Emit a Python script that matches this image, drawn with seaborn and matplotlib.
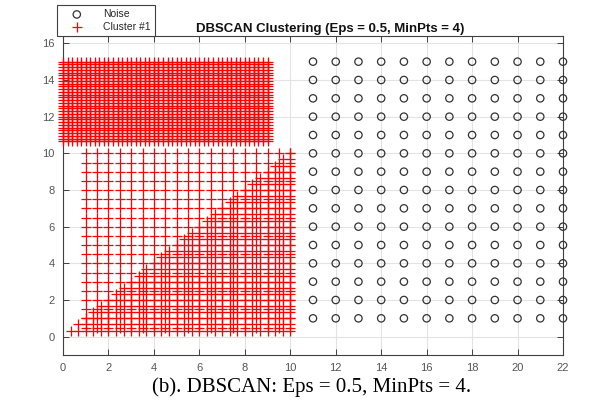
import numpy as np
import pandas as pd
import matplotlib
matplotlib.use("Agg")
import matplotlib.pyplot as plt
import seaborn as sns

# Noise points: regular lattice on the right side
noise_x = [11, 12, 13, 14, 15, 16, 17, 18, 19, 20, 21, 22]
noise_y = [1, 2, 3, 4, 5, 6, 7, 8, 9, 10, 11, 12, 13, 14, 15]

# Cluster #1, upper dense block
block_x = [0.0, 0.2, 0.4, 0.6, 0.8, 1.0, 1.2, 1.4, 1.6, 1.8, 2.0, 2.2, 2.4, 2.6, 2.8,
           3.0, 3.2, 3.4, 3.6, 3.8, 4.0, 4.2, 4.4, 4.6, 4.8, 5.0, 5.2, 5.4, 5.6, 5.8,
           6.0, 6.2, 6.4, 6.6, 6.8, 7.0, 7.2, 7.4, 7.6, 7.8, 8.0, 8.2, 8.4, 8.6, 8.8, 9.0]
block_y = [10.65, 10.8, 10.95, 11.1, 11.25, 11.4, 11.55, 11.7, 11.85, 12.0, 12.15,
           12.3, 12.45, 12.6, 12.75, 12.9, 13.05, 13.2, 13.35, 13.5, 13.65, 13.8,
           13.95, 14.1, 14.25, 14.4, 14.55, 14.7, 14.85, 15.0]

# Cluster #1, lower square lattice
square_x = [1.0, 1.5, 2.0, 2.5, 3.0, 3.5, 4.0, 4.5, 5.0, 5.5, 6.0, 6.5, 7.0, 7.5,
            8.0, 8.5, 9.0, 9.5, 10.0]
square_y = [0.5, 1.0, 1.5, 2.0, 2.5, 3.0, 3.5, 4.0, 4.5, 5.0, 5.5, 6.0, 6.5, 7.0,
            7.5, 8.0, 8.5, 9.0, 9.5, 10.0]

# Cluster #1, finer lattice under the diagonal
tri_steps = [0.33, 0.67, 1.0, 1.33, 1.67, 2.0, 2.33, 2.67, 3.0, 3.33, 3.67, 4.0,
             4.33, 4.67, 5.0, 5.33, 5.67, 6.0, 6.33, 6.67, 7.0, 7.33, 7.67, 8.0,
             8.33, 8.67, 9.0, 9.33, 9.67, 10.0]

title_text = "DBSCAN Clustering (Eps = 0.5, MinPts = 4)"
caption_text = "(b). DBSCAN: Eps = 0.5, MinPts = 4."
x_ticks = [0, 2, 4, 6, 8, 10, 12, 14, 16, 18, 20, 22]
y_ticks = [0, 2, 4, 6, 8, 10, 12, 14, 16]

NOISE_COLOR = "#333333"
CLUSTER_COLOR = "#ff0000"


def lattice(xs, ys):
    gx, gy = np.meshgrid(xs, ys)
    return gx.ravel(), gy.ravel()


nx, ny = lattice(noise_x, noise_y)
noise = pd.DataFrame({"x": nx, "y": ny})

bx, by = lattice(block_x, block_y)
sx, sy = lattice(square_x, square_y)
tx, ty = lattice(tri_steps, tri_steps)
keep = ty <= tx + 1e-9
cluster = pd.DataFrame({
    "x": np.concatenate([bx, sx, tx[keep]]),
    "y": np.concatenate([by, sy, ty[keep]]),
})

sns.set_theme(style="white")
plt.rcParams["font.family"] = ["Liberation Sans", "DejaVu Sans"]

fig = plt.figure(figsize=(6.03, 4.0), dpi=100)
ax = fig.add_axes([63 / 603, 45 / 400, 500 / 603, 319 / 400])

sns.scatterplot(data=noise, x="x", y="y", ax=ax, marker="o", s=28,
                linewidth=0.9, clip_on=False, zorder=3, label="Noise")
noise_pts = ax.collections[-1]
noise_pts.set_facecolor("none")
noise_pts.set_edgecolor(NOISE_COLOR)

sns.scatterplot(data=cluster, x="x", y="y", ax=ax, marker="+", s=56,
                color=CLUSTER_COLOR, linewidth=0.9, clip_on=False, zorder=4,
                label="Cluster #1")
cluster_pts = ax.collections[-1]
cluster_pts.set_facecolor(CLUSTER_COLOR)
cluster_pts.set_edgecolor(CLUSTER_COLOR)

ax.set_xlim(0, 22)
ax.set_ylim(-1, 16.4)
ax.set_xticks(x_ticks)
ax.set_yticks(y_ticks)
ax.set_xlabel("")
ax.set_ylabel("")
ax.grid(True, color="#e3e3e3", linewidth=0.8)
ax.set_axisbelow(True)
for sp in ax.spines.values():
    sp.set_color("#404040")
    sp.set_linewidth(0.8)
ax.tick_params(direction="in", length=4, width=0.7, colors="#404040",
               labelsize=8, top=True, right=True, bottom=True, left=True,
               pad=6)
for lab in ax.get_xticklabels() + ax.get_yticklabels():
    lab.set_color("#555555")

ax.set_title(title_text, fontsize=9.5, fontweight="bold", color="#111111",
             pad=3, x=0.535)

leg = ax.legend(loc="upper left", bbox_to_anchor=(57 / 603, 1 - 5 / 400),
                bbox_transform=fig.transFigure, borderaxespad=0,
                fontsize=7.5, frameon=True, fancybox=False, framealpha=1,
                edgecolor="#404040", handletextpad=1.0, borderpad=0.4,
                labelspacing=0.25, handlelength=3.0)
leg.get_frame().set_linewidth(0.8)

fig.text(312 / 603, 13 / 400, caption_text, ha="center", va="center",
         fontsize=15, family=["Liberation Serif", "DejaVu Serif"], color="black")

fig.savefig("out.png", dpi=100)
